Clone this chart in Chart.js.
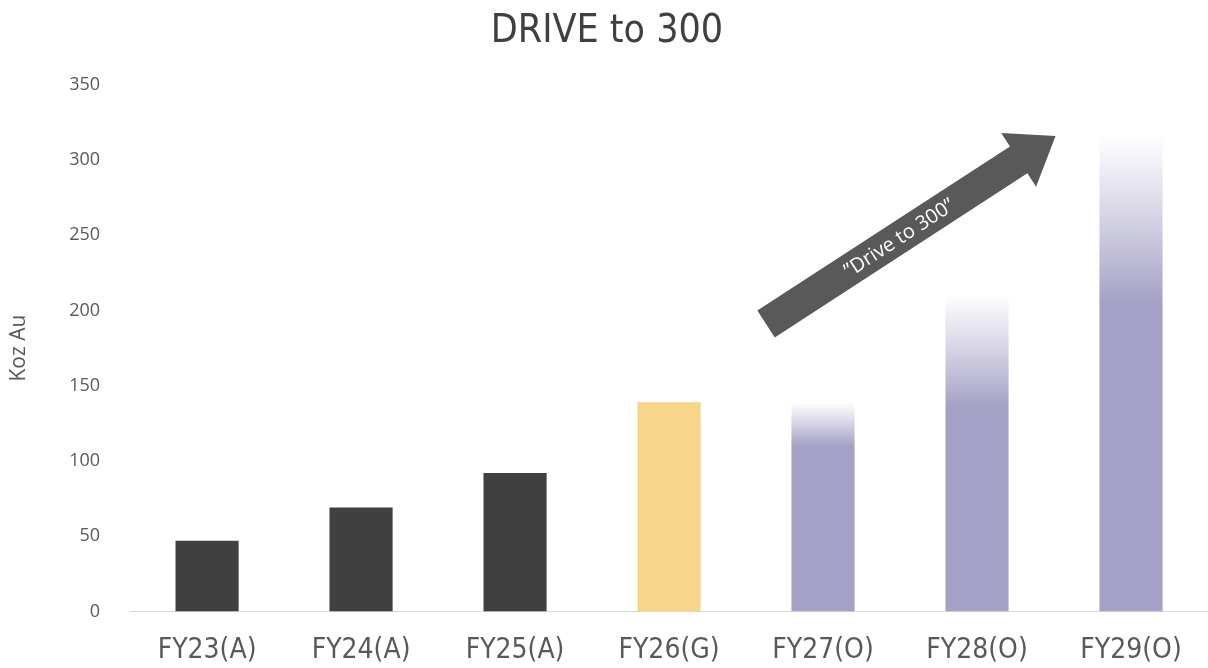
<!DOCTYPE html>
<html>
<head>
<meta charset="utf-8">
<script src="https://cdn.jsdelivr.net/npm/chart.js@4.4.1/dist/chart.umd.min.js"></script>
<style>
  html, body { margin: 0; padding: 0; background: #fff; }
  #wrap { width: 1208px; height: 668px; }
</style>
</head>
<body>
<div id="wrap"><canvas id="drive-chart"></canvas></div>
<script>
const years = ['FY23(A)', 'FY24(A)', 'FY25(A)', 'FY26(G)', 'FY27(O)', 'FY28(O)', 'FY29(O)'];
const kozAu = [47, 69, 92, 139, 139, 211, 317];
// where the outlook bars stop being solid and start fading out
const solidUpTo = [null, null, null, null, 110, 136, 205];
const barColors = ['#404040', '#404040', '#404040', '#F7D58B', '#A5A1C6', '#A5A1C6', '#A5A1C6'];
const yTicks = [0, 50, 100, 150, 200, 250, 300, 350];

const narrowFont = "'DejaVu Sans Condensed', sans-serif";

// bar fill, fading to white at the top for the outlook years
function barFill(ctx) {
  const i = ctx.dataIndex;
  const chart = ctx.chart;
  if (solidUpTo[i] === null || !chart.chartArea) return barColors[i];
  const y = chart.scales.y;
  const top = y.getPixelForValue(kozAu[i]);
  const solid = y.getPixelForValue(solidUpTo[i]);
  const g = chart.ctx.createLinearGradient(0, solid, 0, top);
  g.addColorStop(0, barColors[i]);
  g.addColorStop(1, 'rgba(255,255,255,0.9)');
  return g;
}

// the grey "Drive to 300" arrow, placed in data space
const arrowPlugin = {
  id: 'driveArrow',
  afterDatasetsDraw(chart) {
    const { ctx, scales: { x, y } } = chart;
    const x0 = x.getPixelForValue(3.63), y0 = y.getPixelForValue(191);
    const x1 = x.getPixelForValue(5.51), y1 = y.getPixelForValue(316);
    const ang = Math.atan2(y1 - y0, x1 - x0);
    const len = Math.hypot(x1 - x0, y1 - y0);
    const shaft = 16, head = 32, headLen = 44;
    ctx.save();
    ctx.translate(x0, y0);
    ctx.rotate(ang);
    ctx.fillStyle = '#595959';
    ctx.beginPath();
    ctx.moveTo(0, -shaft);
    ctx.lineTo(len - headLen, -shaft);
    ctx.lineTo(len - headLen, -head);
    ctx.lineTo(len, 0);
    ctx.lineTo(len - headLen, head);
    ctx.lineTo(len - headLen, shaft);
    ctx.lineTo(0, shaft);
    ctx.closePath();
    ctx.fill();
    ctx.fillStyle = '#ffffff';
    ctx.font = "20px 'Open Sans', sans-serif";
    ctx.textAlign = 'center';
    ctx.textBaseline = 'middle';
    ctx.fillText('\u201DDrive to 300\u201D', (len - headLen) / 2 + 8, 1);
    ctx.restore();
  }
};

function createDriveChart() {
  const ctx = document.getElementById('drive-chart').getContext('2d');
  new Chart(ctx, {
    type: 'bar',
    data: {
      labels: years,
      datasets: [
        {
          data: kozAu,
          backgroundColor: barFill,
          borderWidth: 0,
          categoryPercentage: 1,
          barPercentage: 0.41,
        },
      ],
    },
    options: {
      responsive: true,
      maintainAspectRatio: false,
      animation: false,
      layout: { padding: { left: 6, right: 0, top: 0, bottom: -15 } },
      plugins: {
        legend: { display: false },
        tooltip: { enabled: false },
        title: {
          display: true,
          text: 'DRIVE to 300',
          color: '#404040',
          font: { family: narrowFont, size: 39, weight: '500' },
          padding: { top: 8, bottom: 30 },
        },
      },
      scales: {
        x: {
          grid: { display: false },
          border: { color: '#d9d9d9', width: 1 },
          ticks: {
            color: '#595959',
            font: { family: narrowFont, size: 28 },
            padding: 15,
          },
        },
        y: {
          min: 0,
          max: 350,
          afterBuildTicks(axis) {
            axis.ticks = yTicks.map(v => ({ value: v }));
          },
          grid: { display: false },
          border: { display: false },
          ticks: {
            color: '#595959',
            font: { family: "'Open Sans', sans-serif", size: 18 },
            padding: 22,
          },
          title: {
            display: true,
            text: 'Koz Au',
            color: '#595959',
            font: { family: "'Open Sans', sans-serif", size: 21 },
            padding: { top: 0, bottom: 16 },
          },
        },
      },
    },
    plugins: [arrowPlugin],
  });
}

document.addEventListener('DOMContentLoaded', () => {
  createDriveChart();
});
</script>
</body>
</html>
